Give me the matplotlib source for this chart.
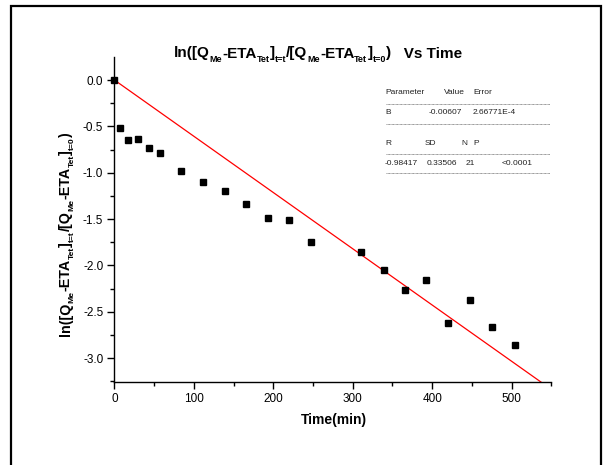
import matplotlib
matplotlib.use("Agg")
import matplotlib.pyplot as plt
from matplotlib.patches import Rectangle
from matplotlib.ticker import MultipleLocator
import numpy as np

plt.rcParams['font.family'] = ['Liberation Sans', 'DejaVu Sans']

W, H = 608, 465

# Measured ln ratio versus time
time_min = [0, 7.3, 16.6, 29.3, 43.4, 57, 83.9, 111.2, 139, 165.9, 192.7,
            220, 247.8, 310.2, 339, 366.3, 392.7, 420, 447.8, 475.1, 504.4]
ln_ratio = [0.0, -0.521, -0.647, -0.632, -0.729, -0.79, -0.981, -1.10, -1.193,
            -1.337, -1.491, -1.506, -1.75, -1.854, -2.052, -2.271, -2.159,
            -2.623, -2.372, -2.666, -2.857]

# Linear fit through the origin
slope_B = -0.00607
fit_x = [0, 550]

# Fit statistics shown in the table
param_rows = [('Parameter', 'Value', 'Error'), ('B', '-0.00607', '2.66771E-4')]
stat_rows = [('R', 'SD', 'N', 'P'), ('-0.98417', '0.33506', '21', '<0.0001')]

fig = plt.figure(figsize=(W / 100, H / 100), dpi=100)
ax = fig.add_axes([114.4 / W, 1 - 381.7 / H, (551.4 - 114.4) / W, (381.7 - 57.3) / H])

ax.plot(fit_x, [slope_B * x for x in fit_x], color='red', lw=0.9, zorder=2)
ax.plot(time_min, ln_ratio, linestyle='none', marker='s', ms=4.6,
        color='black', zorder=3, clip_on=False)

ax.set_xlim(0, 550)
ax.set_ylim(-3.255, 0.245)
ax.xaxis.set_major_locator(MultipleLocator(100))
ax.xaxis.set_minor_locator(MultipleLocator(50))
ax.yaxis.set_minor_locator(MultipleLocator(0.25))
yt = np.arange(-3.0, 0.01, 0.5)
ax.set_yticks(yt)
ax.set_yticklabels([f'{v:.1f}' for v in yt])
ax.tick_params(which='major', direction='out', length=5, width=1, labelsize=8.5, pad=3)
ax.tick_params(which='minor', direction='out', length=3, width=1)
for s in ['top', 'right']:
    ax.spines[s].set_visible(False)
for s in ['left', 'bottom']:
    ax.spines[s].set_linewidth(1.0)

renderer = fig.canvas.get_renderer()


def rich_text(cx, cy, pieces, size, sub_size, drop, vertical=False):
    """Lay out text pieces with small subscripts, centred at pixel (cx, cy)."""
    widths = []
    for s, sub in pieces:
        t = fig.text(0, 0, s, fontsize=sub_size if sub else size, fontweight='bold')
        widths.append(t.get_window_extent(renderer).width)
        t.remove()
    pos = -sum(widths) / 2
    for (s, sub), w in zip(pieces, widths):
        d = drop if sub else 0
        if vertical:
            x, y, rot = cx + d, cy + pos, 90
        else:
            x, y, rot = cx + pos, cy - d, 0
        fig.text(x / W, y / H, s, fontsize=sub_size if sub else size,
                 fontweight='bold', ha='left', va='baseline',
                 rotation=rot, rotation_mode='anchor')
        pos += w


core = [('ln([Q', 0), ('Me', 1), ('-ETA', 0), ('Tet', 1), (']', 0), ('t=t', 1),
        ('/[Q', 0), ('Me', 1), ('-ETA', 0), ('Tet', 1), (']', 0), ('t=0', 1), (')', 0)]

rich_text(318, H - 57.5, core + [('   Vs Time', 0)], 11, 6.5, 4)
rich_text(70, H - 234.5, core, 10.3, 6.1, 3.8, vertical=True)
fig.text(333.5 / W, 1 - 420 / H, 'Time(min)', ha='center', va='center',
         fontsize=10, fontweight='bold')


# Fit result table
def px(x, y):
    return x / W, 1 - y / H


tfs = 6
cells = [
    (93, [385, 444, 473], param_rows[0]),
    (113, [385, 429, 473], param_rows[1]),
    (143, [385, 425, 461, 473], stat_rows[0]),
    (163, [385, 427, 466, 502], stat_rows[1]),
]
for y, xs, texts in cells:
    for x, s in zip(xs, texts):
        fig.text(*px(x, y), s, ha='left', va='center', fontsize=tfs, color='#222222')
for y in [104, 124, 154, 173]:
    x0, yy = px(386, y)
    x1, _ = px(550, y)
    fig.add_artist(plt.Line2D([x0, x1], [yy, yy], transform=fig.transFigure,
                              color='#777777', lw=0.6, linestyle=(0, (1, 0.6))))

# Outer frame
fig.add_artist(Rectangle((10.5 / W, -0.1), (601 - 10.5) / W, 1.1 - 6.5 / H,
                         transform=fig.transFigure, fill=False, ec='black', lw=1.6))

fig.savefig('out.png', dpi=100)
